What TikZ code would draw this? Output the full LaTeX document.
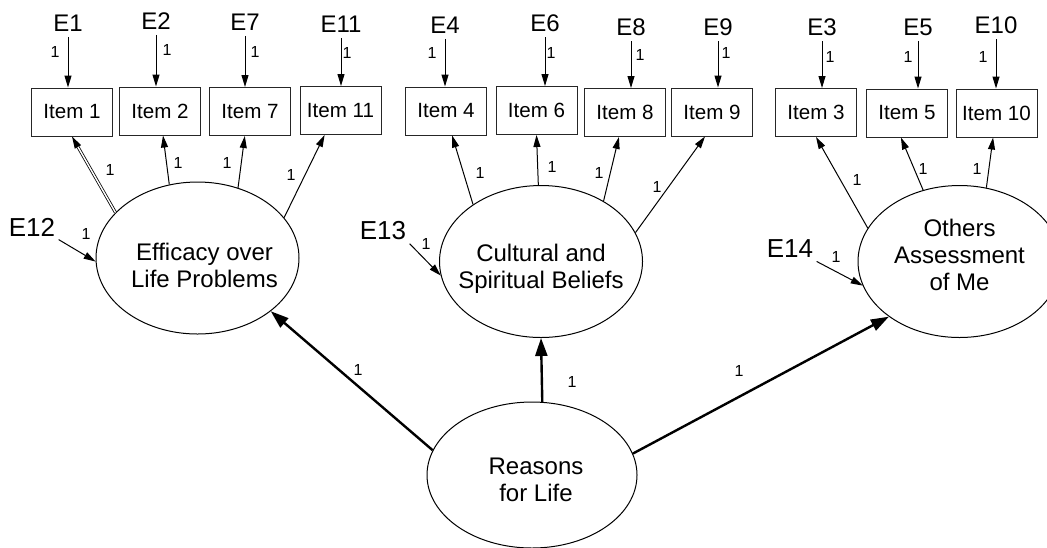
\documentclass[tikz,border=0pt]{standalone}
\usepackage{fontspec}
\setmainfont{Liberation Sans}
\usetikzlibrary{shapes.geometric,arrows.meta}
\tikzset{
    item/.style = {draw=black!85, rectangle, minimum width=40.5pt, minimum height=24pt,
        inner sep=0pt, font=\fontsize{10.3}{12}\selectfont},
    factor/.style = {draw, ellipse, minimum width=101.5pt, minimum height=76pt, inner sep=0pt},
    ftext/.style = {inner sep=0pt, align=center, font=\fontsize{12}{13.5}\selectfont},
    err/.style = {inner sep=2.5pt, font=\fontsize{12}{12}\selectfont},
    bigerr/.style = {inner sep=1.5pt, font=\fontsize{13}{14}\selectfont},
    one/.style = {inner sep=0pt, font=\fontsize{8}{8}\selectfont},
    arr/.style = {-{Triangle[length=6pt,width=3.5pt]}, line width=0.5pt},
    bigarr/.style = {-{Triangle[length=9pt,width=6pt]}, line width=1.2pt}
}

\begin{document}
\begin{tikzpicture}[x=0.5pt, y=-0.5pt, line width=0.5pt]
    \useasboundingbox (0,0) rectangle (1047,547);
    \clip (0,0) rectangle (1047,547);

    % observed items
    \node (it1) at (72,112) [item] {Item 1};
    \node (it2) at (160,111) [item] {Item 2};
    \node (it7) at (250,111.5) [item] {Item 7};
    \node (it11) at (340.5,110.5) [item] {Item 11};
    \node (it4) at (446,111) [item] {Item 4};
    \node (it6) at (536.5,110.5) [item] {Item 6};
    \node (it8) at (625,112.5) [item] {Item 8};
    \node (it9) at (712,112) [item] {Item 9};
    \node (it3) at (816,112.5) [item] {Item 3};
    \node (it5) at (907,113) [item] {Item 5};
    \node (it10) at (996.5,113) [item] {Item 10};

    % error terms
    \node (e1) at (68,23) [err] {E1};
    \node (e2) at (156,21) [err] {E2};
    \node (e7) at (245,22) [err] {E7};
    \node (e11) at (341,24) [err] {E11};
    \node (e4) at (445,25) [err] {E4};
    \node (e6) at (545,23) [err] {E6};
    \node (e8) at (631,27) [err] {E8};
    \node (e9) at (718,27) [err] {E9};
    \node (e3) at (822,27) [err] {E3};
    \node (e5) at (918,27) [err] {E5};
    \node (e10) at (996,25) [err] {E10};

    % latent factors
    \node (eff) at (197.5,258) [factor] {};
    \node (cul) at (541,261.5) [factor] {};
    \node (oth) at (959.5,261.5) [factor] {};
    \node (rea) at (532,475) [factor, minimum width=105pt, minimum height=73pt] {};

    \node (efftext) at ([xshift=3.5pt,yshift=-3.5pt]eff.center) [ftext] {Efficacy over\\Life Problems};
    \node (cultext) at ([yshift=-3.5pt]cul.center) [ftext] {Cultural and\\Spiritual Beliefs};
    \node (othtext) at ([yshift=3.5pt]oth.center) [ftext] {Others\\Assessment\\of Me};
    \node (reatext) at ([xshift=2pt,yshift=-2.5pt]rea.center) [ftext] {Reasons\\for Life};

    \node (e12) at (32,227) [bigerr] {E12};
    \node (e13) at (383,231) [bigerr] {E13};
    \node (e14) at (790,249) [bigerr] {E14};

    % errors to items
    \draw[arr] (e1.south) -- (e1.south |- it1.north);
    \draw[arr] (e2.south) -- (e2.south |- it2.north);
    \draw[arr] (e7.south) -- (e7.south |- it7.north);
    \draw[arr] (e11.south) -- (e11.south |- it11.north);
    \draw[arr] (e4.south) -- (e4.south |- it4.north);
    \draw[arr] (e6.south) -- (e6.south |- it6.north);
    \draw[arr] (e8.south) -- (e8.south |- it8.north);
    \draw[arr] (e9.south) -- (e9.south |- it9.north);
    \draw[arr] (e3.south) -- (e3.south |- it3.north);
    \draw[arr] (e5.south) -- (e5.south |- it5.north);
    \draw[arr] (e10.south) -- (e10.south |- it10.north);

    % factor loadings
    \draw[arr] (eff.151) -- (it1.south);
    \draw[double, double distance=0.7pt, line width=0.4pt, shorten >=6pt] (eff.151) -- (it1.south);
    \draw[arr] (eff.111) -- (it2.277);
    \draw[arr] (eff.60) -- (it7.258);
    \draw[arr] (eff.25) -- (it11.237);
    \draw[arr] (cul.140) -- (it4.284);
    \draw[arr] (cul.92) -- (it6.south);
    \draw[arr] (cul.44) -- (it8.256);
    \draw[arr] (cul.17) -- (it9.254);
    \draw[arr] (oth.160) -- (it3.south);
    \draw[arr] (oth.117) -- (it5.256);
    \draw[arr] (oth.70) -- (it10.262);

    % disturbances
    \draw[arr] (e12.south east) -- (eff.182);
    \draw[arr] (e13.south east) -- (cul.188);
    \draw[arr] (e14.south east) -- (oth.194);

    % second order paths
    \draw[bigarr] (rea.166) -- (eff.324);
    \draw[bigarr] (rea.82) -- (cul.270);
    \draw[bigarr] (rea.12) -- (oth.218);

    % weights
    \node (w1) at (55,52) [one] {1};
    \node (w2) at (167,50) [one] {1};
    \node (w7) at (255,52) [one] {1};
    \node (w11) at (347,53) [one] {1};
    \node (w4) at (432,53) [one] {1};
    \node (w6) at (551,53) [one] {1};
    \node (w8) at (640,55) [one] {1};
    \node (w9) at (726,53) [one] {1};
    \node (w3) at (830,57) [one] {1};
    \node (w5) at (908,57) [one] {1};
    \node (w10) at (983,57) [one] {1};
    \node (l1) at (110,170) [one] {1};
    \node (l2) at (178,163) [one] {1};
    \node (l7) at (227,163) [one] {1};
    \node (l11) at (291,175) [one] {1};
    \node (l4) at (480,173) [one] {1};
    \node (l6) at (552,167) [one] {1};
    \node (l8) at (599,173) [one] {1};
    \node (l9) at (657,187) [one] {1};
    \node (l3) at (857,180) [one] {1};
    \node (l5) at (923,169) [one] {1};
    \node (l10) at (977,169) [one] {1};
    \node (d12) at (86,234) [one] {1};
    \node (d13) at (426,244) [one] {1};
    \node (d14) at (836,257) [one] {1};
    \node (s1) at (358,370) [one] {1};
    \node (s2) at (572,382) [one] {1};
    \node (s3) at (739,371) [one] {1};
\end{tikzpicture}
\end{document}
